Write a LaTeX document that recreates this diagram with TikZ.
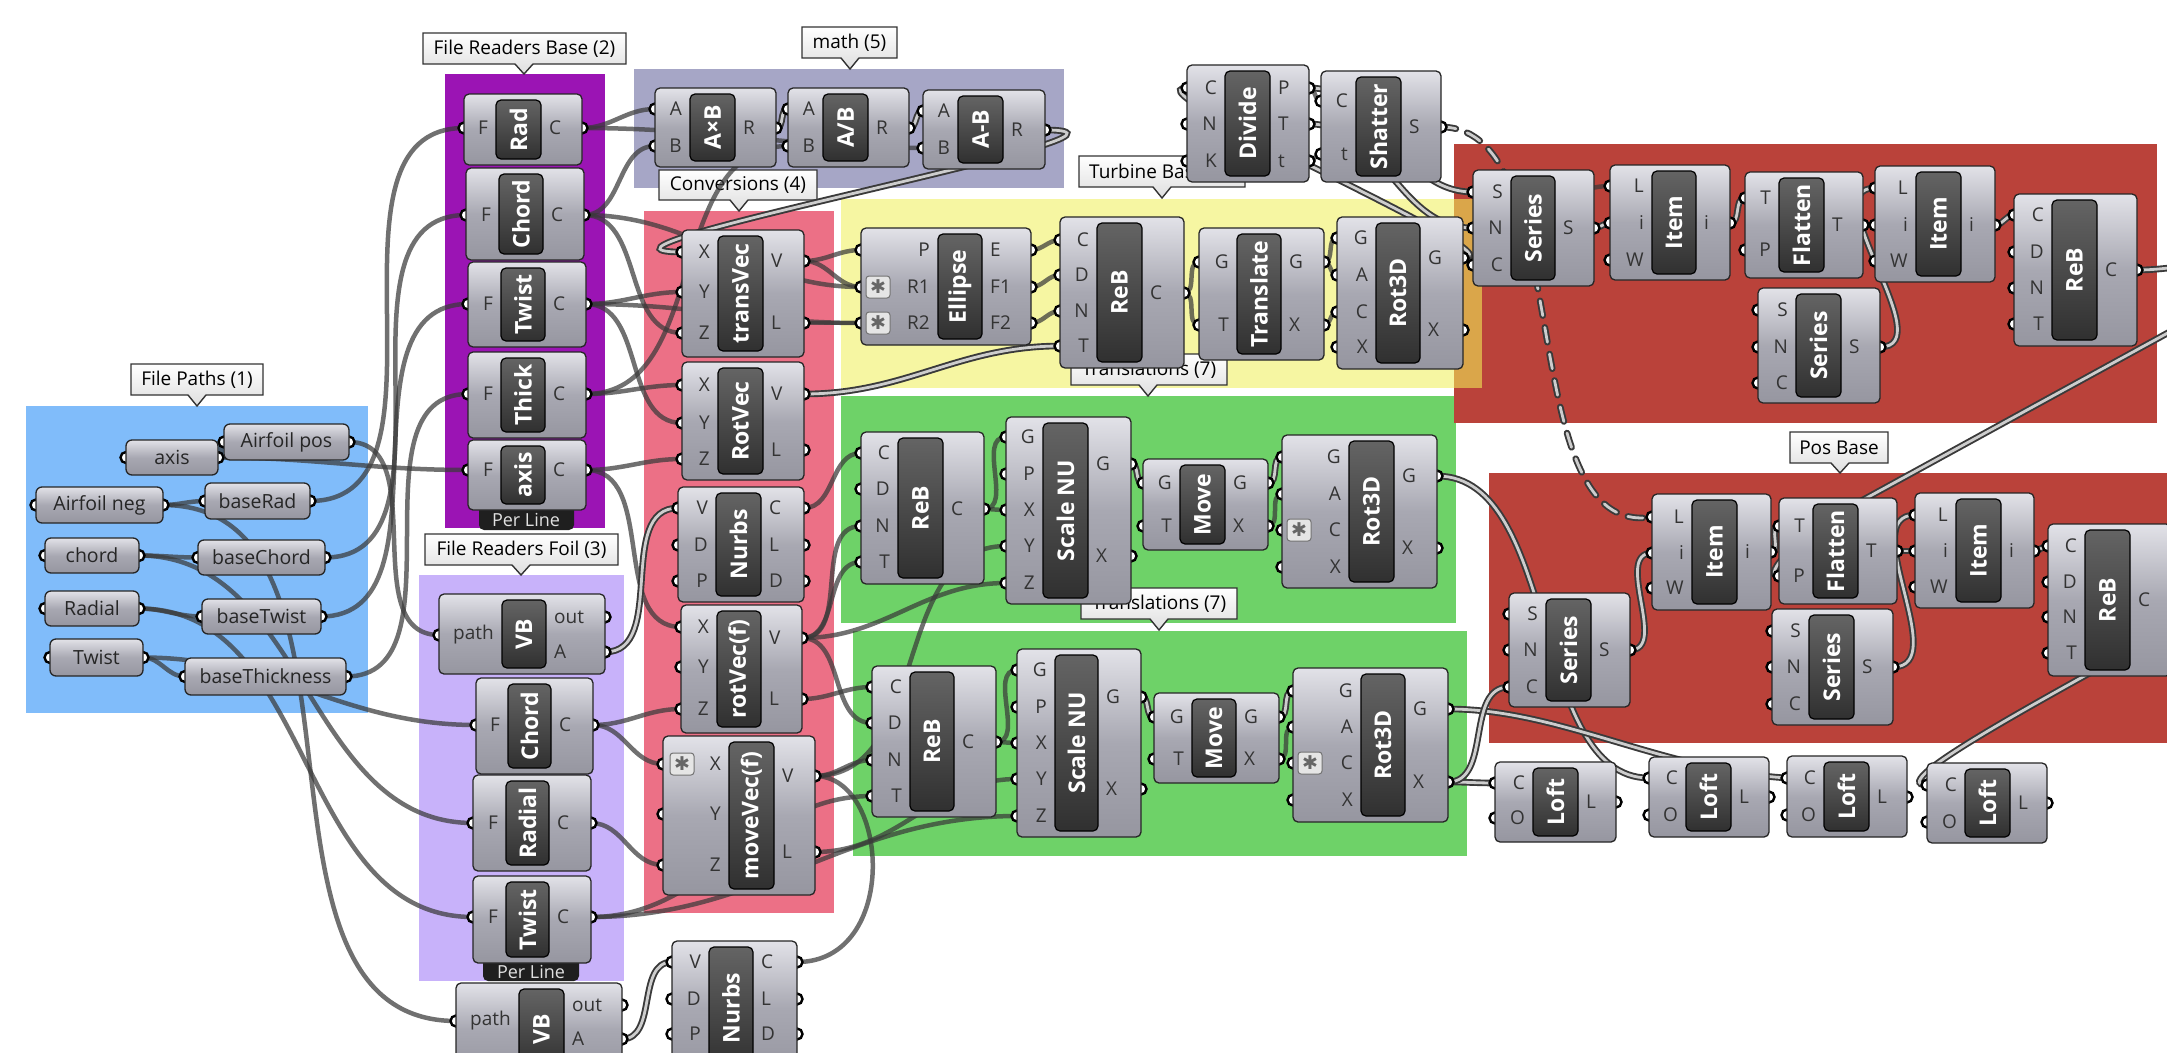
\documentclass[tikz,border=0pt]{standalone}
\usepackage{fontspec}
\setmainfont{Open Sans}
\newfontfamily\symfont{DejaVu Sans}
\pgfdeclarelayer{bglayer}
\pgfdeclarelayer{calllayer}
\pgfdeclarelayer{wirelayer}
\pgfdeclarelayer{portlayer}
\pgfsetlayers{bglayer,calllayer,wirelayer,portlayer,main}
\definecolor{gBlue}{RGB}{128,188,250}
\definecolor{gPurple}{RGB}{155,20,180}
\definecolor{gLav}{RGB}{200,178,250}
\definecolor{gMath}{RGB}{166,166,198}
\definecolor{gPink}{RGB}{236,112,134}
\definecolor{gYellow}{RGB}{246,246,162}
\definecolor{gGreen}{RGB}{110,210,104}
\definecolor{gRed}{RGB}{186,66,58}
\definecolor{gOrange}{RGB}{218,166,74}
\definecolor{bodyTop}{RGB}{226,226,232}
\definecolor{bodyMid}{RGB}{168,168,178}
\definecolor{bodyBot}{RGB}{150,150,160}
\definecolor{darkTop}{RGB}{100,100,100}
\definecolor{darkBot}{RGB}{48,48,48}
\definecolor{wireDark}{RGB}{58,58,58}
\definecolor{wireLight}{RGB}{205,205,205}
\definecolor{callBot}{RGB}{222,222,222}
\tikzset{
  compbody/.style={draw=black!85, line width=1.3pt, rounded corners=5pt, top color=bodyTop, bottom color=bodyBot, middle color=bodyMid},
  darkbox/.style={draw=black, line width=1.2pt, rounded corners=5pt, top color=darkTop, bottom color=darkBot},
  complabel/.style={text=white, font=\bfseries\fontsize{23}{23}\selectfont, rotate=90, inner sep=0pt},
  portlbl/.style={text=black!80, font=\fontsize{19}{19}\selectfont, inner sep=0pt},
  portdot/.style={draw=black, fill=white, line width=2.4pt},
  parambody/.style={draw=black!85, line width=1.3pt, rounded corners=6pt, top color=bodyTop, bottom color=bodyBot, middle color=bodyMid},
  paramtext/.style={text=black!85, font=\fontsize{19.5}{19.5}\selectfont, inner sep=0pt},
  callbox/.style={draw=black!80, line width=1.4pt, top color=white, bottom color=callBot},
  calltext/.style={text=black, font=\fontsize{19}{19}\selectfont, inner sep=0pt},
  perline/.style={fill=black!88, rounded corners=5pt},
  perlinetext/.style={text=black!12, font=\fontsize{18}{18}\selectfont, inner sep=0pt},
  wireS/.style={draw=wireDark, line width=4.5pt, opacity=0.72},
  wireD/.style={draw=wireDark, double=wireLight, double distance=2.8pt, line width=1.9pt},
  wireDash/.style={wireD, line cap=round, dash pattern=on 15pt off 12pt},
  starbox/.style={draw=black!55, fill=black!10, rounded corners=3pt, line width=1pt},
  startext/.style={text=black!60, font=\symfont\fontsize{19}{19}\selectfont, inner sep=0pt},
}
% component: id x1 y1 x2 y2 dx1 dx2 label
\newcommand\ghcomp[8]{%
  \def\gxa{#2}\def\gxb{#4}\def\gdxa{#6}\def\gdxb{#7}%
  \path[compbody] (#2,#3) rectangle (#4,#5);
  \path[darkbox] (#6,#3+6) rectangle (#7,#5-6);
  \node[complabel] (#1) at ({(#6+#7)/2},{(#3+#5)/2}) {#8};
}
\newcommand\ghin[3]{%
  \coordinate (#1) at (\gxa,#2);
  \begin{pgfonlayer}{portlayer}\path[portdot] (#1) circle[radius=5.5pt];\end{pgfonlayer}
  \node[portlbl,anchor=east] (#1-lbl) at (\gdxa-8,#2) {#3};
}
\newcommand\ghout[3]{%
  \coordinate (#1) at (\gxb,#2);
  \begin{pgfonlayer}{portlayer}\path[portdot] (#1) circle[radius=5.5pt];\end{pgfonlayer}
  \node[portlbl,anchor=west] (#1-lbl) at (\gdxb+8,#2) {#3};
}
\newcommand\ghparam[6]{%
  \path[parambody] (#2,#3) rectangle (#4,#5);
  \node[paramtext] (#1) at ({(#2+#4)/2},{(#3+#5)/2}) {#6};
  \coordinate (#1-in) at (#2,{(#3+#5)/2});
  \coordinate (#1-out) at (#4,{(#3+#5)/2});
  \begin{pgfonlayer}{portlayer}\path[portdot] (#1-in) circle[radius=5.5pt] (#1-out) circle[radius=5.5pt];\end{pgfonlayer}
}
\newcommand\ghcall[8]{%
  \begin{pgfonlayer}{calllayer}
  \path[callbox] (#2,#3) -- (#4,#3) -- (#4,#5) -- (#6+9,#5) -- (#6,#7) -- (#6-9,#5) -- (#2,#5) -- cycle;
  \node[calltext] (#1) at ({(#2+#4)/2},{(#3+#5)/2}) {#8};
  \end{pgfonlayer}
}
\newcommand\ghstar[3]{%
  \path[starbox] (#2,#3) rectangle ++(24,22);
  \node[startext] (#1) at (#2+12,#3+11) {✱};
}
\newcommand\wS[2]{\draw[wireS] (#1) to[out=0,in=180] (#2);}
\newcommand\wD[2]{\draw[wireD] (#1) to[out=0,in=180] (#2);}
\begin{document}
\begin{tikzpicture}[x=1pt,y=-1pt]
\useasboundingbox (0,0) rectangle (2167,1052);
\begin{pgfonlayer}{bglayer}
\fill[white] (0,0) rectangle (2167,1052);
\fill[gBlue] (26,406) rectangle (368,713);
\fill[gPurple] (445,74) rectangle (605,528);
\fill[gLav] (419,575) rectangle (624,981);
\fill[gMath] (634,69) rectangle (1064,188);
\fill[gPink] (644,211) rectangle (834,913);
\fill[gYellow] (841,199) rectangle (1482,388);
\fill[gGreen] (841,396) rectangle (1456,623);
\fill[gGreen] (853,631) rectangle (1467,856);
\fill[gRed] (1454,144) rectangle (2157,423);
\fill[gRed] (1489,473) rectangle (2167,743);
\fill[gOrange] (1454,199) rectangle (1482,388);
\end{pgfonlayer}

% callouts
\ghcall{cFRB}{423}{33}{626}{64}{524}{74}{File Readers Base (2)}
\ghcall{cMath}{802}{27}{897}{58}{850}{69}{math (5)}
\ghcall{cConv}{659}{170}{817}{200}{739}{211}{Conversions (4)}
\ghcall{cTransA}{1071}{354}{1227}{385}{1148}{396}{Translations (7)}
\ghcall{cTransB}{1081}{588}{1237}{619}{1159}{630}{Translations (7)}
\ghcall{cPaths}{131}{364}{263}{395}{197}{406}{File Paths (1)}
\ghcall{cFRF}{425}{534}{618}{565}{521}{575}{File Readers Foil (3)}
\ghcall{cPos}{1790}{432}{1888}{463}{1840}{473}{Pos Base}
\begin{pgfonlayer}{calllayer}
\path[callbox] (1079,156) -- (1245,156) -- (1245,187) -- (1171,187) -- (1162,198) -- (1153,187) -- (1079,187) -- cycle;
\node[calltext,anchor=west] (cTurb) at (1089,171.5) {Turbine Base};
\end{pgfonlayer}

% ---------- File Paths params
\ghparam{pAxis}{126}{440}{218}{475}{axis}
\ghparam{pAfPos}{224}{424}{349}{460}{Airfoil pos}
\ghparam{pAfNeg}{36}{487}{163}{523}{Airfoil neg}
\ghparam{pBaseRad}{205}{483}{310}{519}{baseRad}
\ghparam{pChord}{45}{538}{139}{573}{chord}
\ghparam{pBaseChord}{198}{540}{325}{575}{baseChord}
\ghparam{pRadial}{45}{591}{139}{626}{Radial}
\ghparam{pBaseTwist}{202}{599}{321}{634}{baseTwist}
\ghparam{pTwist}{50}{639}{143}{676}{Twist}
\ghparam{pBaseThick}{185}{658}{346}{695}{baseThickness}

% ---------- File Readers Base
\path[perline] (479,498) rectangle (574,530);
\node[perlinetext] (plBase) at (526,520) {Per Line};
\ghcomp{rad}{464}{94}{582}{165}{496}{541}{Rad}
\ghin{rad-F}{128}{F}\ghout{rad-C}{128}{C}
\ghcomp{chordB}{466}{168}{584}{260}{499}{543}{Chord}
\ghin{chordB-F}{215}{F}\ghout{chordB-C}{215}{C}
\ghcomp{twistB}{468}{262}{586}{347}{501}{545}{Twist}
\ghin{twistB-F}{304}{F}\ghout{twistB-C}{304}{C}
\ghcomp{thick}{468}{352}{586}{438}{501}{545}{Thick}
\ghin{thick-F}{394}{F}\ghout{thick-C}{394}{C}
\ghcomp{axisB}{468}{440}{586}{510}{501}{545}{axis}
\ghin{axisB-F}{470}{F}\ghout{axisB-C}{470}{C}

% ---------- File Readers Foil
\path[perline] (483,950) rectangle (579,981);
\node[perlinetext] (plFoil) at (531,972) {Per Line};
\ghcomp{vb1}{439}{594}{605}{674}{502}{546}{VB}
\ghin{vb1-path}{635}{path}\ghout{vb1-out}{617}{out}\ghout{vb1-A}{652}{A}
\ghcomp{chordF}{476}{678}{593}{774}{508}{551}{Chord}
\ghin{chordF-F}{725}{F}\ghout{chordF-C}{725}{C}
\ghcomp{radialF}{473}{775}{591}{871}{506}{549}{Radial}
\ghin{radialF-F}{823}{F}\ghout{radialF-C}{823}{C}
\ghcomp{twistF}{473}{876}{591}{963}{506}{549}{Twist}
\ghin{twistF-F}{917}{F}\ghout{twistF-C}{917}{C}
\ghcomp{vb2}{456}{983}{622}{1075}{519}{564}{VB}
\ghin{vb2-path}{1021}{path}\ghout{vb2-out}{1005}{out}\ghout{vb2-A}{1039}{A}

% ---------- math
\ghcomp{axb}{655}{88}{776}{167}{690}{735}{A×B}
\ghin{axb-A}{109}{A}\ghin{axb-B}{146}{B}\ghout{axb-R}{128}{R}
\ghcomp{adb}{788}{88}{909}{167}{823}{868}{A/B}
\ghin{adb-A}{109}{A}\ghin{adb-B}{146}{B}\ghout{adb-R}{128}{R}
\ghcomp{amb}{923}{90}{1045}{169}{958}{1003}{A-B}
\ghin{amb-A}{111}{A}\ghin{amb-B}{148}{B}\ghout{amb-R}{130}{R}

% ---------- Conversions
\ghcomp{transvec}{682}{230}{804}{357}{718}{763}{transVec}
\ghin{transvec-X}{252}{X}\ghin{transvec-Y}{292}{Y}\ghin{transvec-Z}{333}{Z}
\ghout{transvec-V}{261}{V}\ghout{transvec-L}{323}{L}
\ghcomp{rotvec}{682}{362}{804}{480}{718}{763}{RotVec}
\ghin{rotvec-X}{385}{X}\ghin{rotvec-Y}{423}{Y}\ghin{rotvec-Z}{459}{Z}
\ghout{rotvec-V}{394}{V}\ghout{rotvec-L}{450}{L}
\ghcomp{nurbsA}{678}{487}{804}{602}{716}{761}{Nurbs}
\ghin{nurbsA-V}{508}{V}\ghin{nurbsA-Din}{545}{D}\ghin{nurbsA-P}{581}{P}
\ghout{nurbsA-C}{508}{C}\ghout{nurbsA-L}{545}{L}\ghout{nurbsA-Dout}{581}{D}
\ghcomp{rotvecf}{681}{605}{802}{733}{717}{761}{rotVec(f)}
\ghin{rotvecf-X}{627}{X}\ghin{rotvecf-Y}{667}{Y}\ghin{rotvecf-Z}{709}{Z}
\ghout{rotvecf-V}{638}{V}\ghout{rotvecf-L}{699}{L}
\ghcomp{movevecf}{663}{736}{815}{895}{729}{774}{moveVec(f)}
\ghin{movevecf-X}{764}{X}\ghin{movevecf-Y}{814}{Y}\ghin{movevecf-Z}{865}{Z}
\ghout{movevecf-V}{776}{V}\ghout{movevecf-L}{852}{L}
\ghstar{starMV}{670}{753}
\ghcomp{nurbsB}{672}{941}{797}{1075}{709}{753}{Nurbs}
\ghin{nurbsB-V}{962}{V}\ghin{nurbsB-Din}{999}{D}\ghin{nurbsB-P}{1034}{P}
\ghout{nurbsB-C}{962}{C}\ghout{nurbsB-L}{999}{L}\ghout{nurbsB-Dout}{1034}{D}

% ---------- Turbine Base
\ghcomp{ellipse}{861}{228}{1031}{345}{938}{982}{Ellipse}
\ghin{ellipse-P}{250}{P}\ghin{ellipse-R1}{287}{R1}\ghin{ellipse-R2}{323}{R2}
\ghout{ellipse-E}{250}{E}\ghout{ellipse-F1}{287}{F1}\ghout{ellipse-F2}{323}{F2}
\ghstar{starE1}{866}{276}\ghstar{starE2}{866}{312}
\ghcomp{rebT}{1060}{217}{1184}{368}{1097}{1142}{ReB}
\ghin{rebT-C}{240}{C}\ghin{rebT-D}{275}{D}\ghin{rebT-N}{311}{N}\ghin{rebT-T}{346}{T}
\ghout{rebT-Cout}{293}{C}
\ghcomp{translate}{1199}{228}{1324}{360}{1237}{1281}{Translate}
\ghin{translate-G}{262}{G}\ghin{translate-T}{325}{T}
\ghout{translate-Gout}{262}{G}\ghout{translate-X}{325}{X}
\ghcomp{rotT}{1337}{217}{1463}{369}{1376}{1420}{Rot3D}
\ghin{rotT-G}{238}{G}\ghin{rotT-A}{275}{A}\ghin{rotT-C}{312}{C}\ghin{rotT-X}{347}{X}
\ghout{rotT-Gout}{258}{G}\ghout{rotT-Xout}{330}{X}
\ghcomp{divide}{1187}{65}{1309}{182}{1225}{1270}{Divide}
\ghin{divide-C}{88}{C}\ghin{divide-N}{124}{N}\ghin{divide-K}{161}{K}
\ghout{divide-P}{88}{P}\ghout{divide-T}{124}{T}\ghout{divide-t}{161}{t}
\ghcomp{shatter}{1321}{71}{1441}{182}{1356}{1401}{Shatter}
\ghin{shatter-C}{101}{C}\ghin{shatter-t}{154}{t}\ghout{shatter-S}{127}{S}

% ---------- upper red
\ghcomp{serU}{1473}{170}{1594}{286}{1511}{1555}{Series}
\ghin{serU-S}{192}{S}\ghin{serU-N}{228}{N}\ghin{serU-C}{265}{C}\ghout{serU-Sout}{228}{S}
\ghcomp{itemU1}{1610}{165}{1730}{280}{1652}{1696}{Item}
\ghin{itemU1-L}{186}{L}\ghin{itemU1-i}{223}{i}\ghin{itemU1-W}{260}{W}\ghout{itemU1-iout}{223}{i}
\ghcomp{flatU}{1745}{172}{1863}{278}{1779}{1824}{Flatten}
\ghin{flatU-T}{198}{T}\ghin{flatU-P}{250}{P}\ghout{flatU-Tout}{225}{T}
\ghcomp{itemU2}{1875}{166}{1995}{282}{1916}{1961}{Item}
\ghin{itemU2-L}{188}{L}\ghin{itemU2-i}{225}{i}\ghin{itemU2-W}{261}{W}\ghout{itemU2-iout}{225}{i}
\ghcomp{serU2}{1758}{288}{1880}{403}{1796}{1841}{Series}
\ghin{serU2-S}{310}{S}\ghin{serU2-N}{347}{N}\ghin{serU2-C}{383}{C}\ghout{serU2-Sout}{347}{S}
\ghcomp{rebU}{2014}{194}{2137}{346}{2052}{2097}{ReB}
\ghin{rebU-C}{215}{C}\ghin{rebU-D}{252}{D}\ghin{rebU-N}{288}{N}\ghin{rebU-T}{324}{T}
\ghout{rebU-Cout}{270}{C}

% ---------- lower red
\ghcomp{serL}{1509}{593}{1630}{707}{1546}{1591}{Series}
\ghin{serL-S}{614}{S}\ghin{serL-N}{650}{N}\ghin{serL-C}{687}{C}\ghout{serL-Sout}{650}{S}
\ghcomp{itemL1}{1652}{494}{1771}{610}{1692}{1737}{Item}
\ghin{itemL1-L}{517}{L}\ghin{itemL1-i}{553}{i}\ghin{itemL1-W}{588}{W}\ghout{itemL1-iout}{552}{i}
\ghcomp{flatL}{1779}{498}{1897}{604}{1813}{1858}{Flatten}
\ghin{flatL-T}{526}{T}\ghin{flatL-P}{576}{P}\ghout{flatL-Tout}{551}{T}
\ghcomp{itemL2}{1915}{493}{2034}{608}{1956}{2001}{Item}
\ghin{itemL2-L}{515}{L}\ghin{itemL2-i}{551}{i}\ghin{itemL2-W}{587}{W}\ghout{itemL2-iout}{551}{i}
\ghcomp{serL2}{1772}{609}{1893}{725}{1809}{1854}{Series}
\ghin{serL2-S}{631}{S}\ghin{serL2-N}{667}{N}\ghin{serL2-C}{704}{C}\ghout{serL2-Sout}{667}{S}
\ghcomp{rebL}{2048}{524}{2171}{676}{2085}{2130}{ReB}
\ghin{rebL-C}{546}{C}\ghin{rebL-D}{582}{D}\ghin{rebL-N}{617}{N}\ghin{rebL-T}{653}{T}
\ghout{rebL-Cout}{600}{C}

% ---------- Translations upper
\ghcomp{rebG1}{861}{432}{984}{584}{898}{943}{ReB}
\ghin{rebG1-C}{453}{C}\ghin{rebG1-D}{489}{D}\ghin{rebG1-N}{526}{N}\ghin{rebG1-T}{562}{T}
\ghout{rebG1-Cout}{509}{C}
\ghcomp{scaleG1}{1006}{417}{1131}{604}{1043}{1088}{Scale NU}
\ghin{scaleG1-G}{437}{G}\ghin{scaleG1-P}{474}{P}\ghin{scaleG1-X}{510}{X}\ghin{scaleG1-Y}{546}{Y}\ghin{scaleG1-Z}{583}{Z}
\ghout{scaleG1-Gout}{464}{G}\ghout{scaleG1-Xout}{556}{X}
\ghcomp{moveG1}{1143}{459}{1268}{550}{1180}{1225}{Move}
\ghin{moveG1-G}{483}{G}\ghin{moveG1-T}{526}{T}\ghout{moveG1-Gout}{483}{G}\ghout{moveG1-X}{526}{X}
\ghcomp{rotG1}{1282}{435}{1437}{588}{1349}{1394}{Rot3D}
\ghin{rotG1-G}{457}{G}\ghin{rotG1-A}{494}{A}\ghin{rotG1-C}{530}{C}\ghin{rotG1-X}{567}{X}
\ghout{rotG1-Gout}{476}{G}\ghout{rotG1-Xout}{548}{X}
\ghstar{starR1}{1287}{519}

% ---------- Translations lower
\ghcomp{rebG2}{872}{666}{996}{817}{910}{954}{ReB}
\ghin{rebG2-C}{687}{C}\ghin{rebG2-D}{723}{D}\ghin{rebG2-N}{760}{N}\ghin{rebG2-T}{796}{T}
\ghout{rebG2-Cout}{742}{C}
\ghcomp{scaleG2}{1017}{649}{1141}{837}{1055}{1098}{Scale NU}
\ghin{scaleG2-G}{670}{G}\ghin{scaleG2-P}{707}{P}\ghin{scaleG2-X}{743}{X}\ghin{scaleG2-Y}{779}{Y}\ghin{scaleG2-Z}{816}{Z}
\ghout{scaleG2-Gout}{697}{G}\ghout{scaleG2-Xout}{789}{X}
\ghcomp{moveG2}{1154}{693}{1279}{783}{1192}{1236}{Move}
\ghin{moveG2-G}{717}{G}\ghin{moveG2-T}{759}{T}\ghout{moveG2-Gout}{717}{G}\ghout{moveG2-X}{759}{X}
\ghcomp{rotG2}{1293}{668}{1448}{822}{1361}{1405}{Rot3D}
\ghin{rotG2-G}{691}{G}\ghin{rotG2-A}{727}{A}\ghin{rotG2-C}{763}{C}\ghin{rotG2-X}{800}{X}
\ghout{rotG2-Gout}{709}{G}\ghout{rotG2-Xout}{782}{X}
\ghstar{starR2}{1298}{752}

% ---------- Lofts
\ghcomp{loft1}{1495}{762}{1616}{842}{1533}{1578}{Loft}
\ghin{loft1-C}{783}{C}\ghin{loft1-O}{818}{O}\ghout{loft1-L}{802}{L}
\ghcomp{loft2}{1649}{757}{1769}{837}{1686}{1731}{Loft}
\ghin{loft2-C}{778}{C}\ghin{loft2-O}{815}{O}\ghout{loft2-L}{797}{L}
\ghcomp{loft3}{1787}{756}{1907}{837}{1824}{1869}{Loft}
\ghin{loft3-C}{778}{C}\ghin{loft3-O}{815}{O}\ghout{loft3-L}{797}{L}
\ghcomp{loft4}{1927}{763}{2047}{843}{1965}{2010}{Loft}
\ghin{loft4-C}{785}{C}\ghin{loft4-O}{822}{O}\ghout{loft4-L}{803}{L}

\coordinate (offA) at (2195,318);
\coordinate (offB) at (2200,612);
\coordinate (offC) at (2200,266);

% ---------- wires
\begin{pgfonlayer}{wirelayer}
\wS{pAfNeg-out}{pBaseRad-in}
\wS{pChord-out}{pBaseChord-in}
\wS{pRadial-out}{pBaseTwist-in}
\wS{pTwist-out}{pBaseThick-in}
\wS{pAxis-out}{pAfPos-in}
\wS{pAxis-out}{axisB-F}
\wS{pBaseRad-out}{rad-F}
\wS{pBaseChord-out}{chordB-F}
\wS{pBaseTwist-out}{twistB-F}
\wS{pBaseThick-out}{thick-F}
\wS{pAfPos-out}{vb1-path}
\wS{pAfNeg-out}{vb2-path}
\wS{pTwist-out}{chordF-F}
\wS{pChord-out}{radialF-F}
\wS{pRadial-out}{twistF-F}
\wS{rad-C}{axb-A}
\wS{chordB-C}{axb-B}
\wD{axb-R}{adb-A}
\wS{thick-C}{adb-B}
\wD{adb-R}{amb-A}
\wS{rad-C}{amb-B}
\wD{amb-R}{transvec-X}
\wS{twistB-C}{transvec-Y}
\wS{chordB-C}{transvec-Z}
\wS{thick-C}{rotvec-X}
\wS{twistB-C}{rotvec-Y}
\wS{axisB-C}{rotvec-Z}
\wS{axisB-C}{rotvecf-X}
\wS{chordB-C}{ellipse-R1}
\wS{twistB-C}{ellipse-R2}
\wS{chordF-C}{rotvecf-Z}
\wS{chordF-C}{movevecf-X}
\wS{radialF-C}{movevecf-Z}
\wS{twistF-C}{rebG2-T}
\wS{twistF-C}{scaleG2-Z}
\wD{vb1-A}{nurbsA-V}
\wD{vb2-A}{nurbsB-V}
\wS{transvec-V}{ellipse-P}
\wS{transvec-V}{ellipse-R1}
\wS{transvec-L}{ellipse-R2}
\wD{rotvec-V}{rebT-T}
\wS{ellipse-E}{rebT-C}
\wS{ellipse-F1}{rebT-D}
\wS{ellipse-F2}{rebT-N}
\wS{rebT-Cout}{translate-G}
\wS{rebT-Cout}{translate-T}
\wS{translate-Gout}{rotT-G}
\wS{translate-Gout}{rotT-A}
\wS{translate-X}{rotT-C}
\wS{rotT-Gout}{serU-C}
\draw[wireD] (rotT-Gout) to[out=0,in=180,looseness=0.5] (divide-C);
\wD{divide-P}{serU-S}
\wD{divide-T}{serU-N}
\wS{divide-t}{shatter-t}
\wS{divide-P}{shatter-C}
\draw[wireDash] (shatter-S) .. controls (1580,127) and (1510,540) .. (itemL1-L);
\wS{nurbsA-C}{rebG1-C}
\wS{rotvecf-V}{rebG1-N}
\wS{rotvecf-V}{rebG1-T}
\wS{rotvecf-V}{scaleG1-Z}
\wS{movevecf-V}{scaleG1-Y}
\wS{rotvecf-L}{rebG2-C}
\wS{rotvecf-V}{rebG2-D}
\wS{movevecf-V}{rebG2-N}
\wS{movevecf-L}{scaleG2-Y}
\draw[wireS] (nurbsB-C) .. controls (900,962) and (890,776) .. (movevecf-V);
\wS{rebG1-Cout}{scaleG1-G}
\wS{rebG1-Cout}{scaleG1-X}
\wD{scaleG1-Gout}{moveG1-G}
\wD{moveG1-Gout}{rotG1-G}
\wS{moveG1-X}{rotG1-A}
\wS{rebG2-Cout}{scaleG2-G}
\wS{rebG2-Cout}{scaleG2-X}
\wD{scaleG2-Gout}{moveG2-G}
\wD{moveG2-Gout}{rotG2-G}
\wS{moveG2-X}{rotG2-A}
\draw[wireD] (rotG1-Gout) .. controls (1560,476) and (1530,778) .. (loft2-C);
\draw[wireD] (rotG2-Gout) .. controls (1560,709) and (1660,770) .. (loft3-C);
\wD{rotG2-Xout}{loft1-C}
\wD{rotG2-Xout}{serL-C}
\wD{serL-Sout}{itemL1-i}
\wD{itemL1-iout}{flatL-T}
\wD{flatL-Tout}{itemL2-i}
\wD{serL2-Sout}{itemL2-L}
\wD{itemL2-iout}{rebL-C}
\draw[wireD] (offA) -- (1850,507) .. controls (1800,535) and (1760,576) .. (flatL-P);
\draw[wireD] (offB) .. controls (2060,690) and (1880,785) .. (loft4-C);
\wD{serU-Sout}{itemU1-i}
\wS{rotT-Gout}{itemU1-L}
\wD{itemU1-iout}{flatU-T}
\wD{flatU-Tout}{itemU2-i}
\wD{serU2-Sout}{itemU2-L}
\wD{itemU2-iout}{rebU-C}
\wD{rebU-Cout}{offC}
\end{pgfonlayer}
\end{tikzpicture}
\end{document}
